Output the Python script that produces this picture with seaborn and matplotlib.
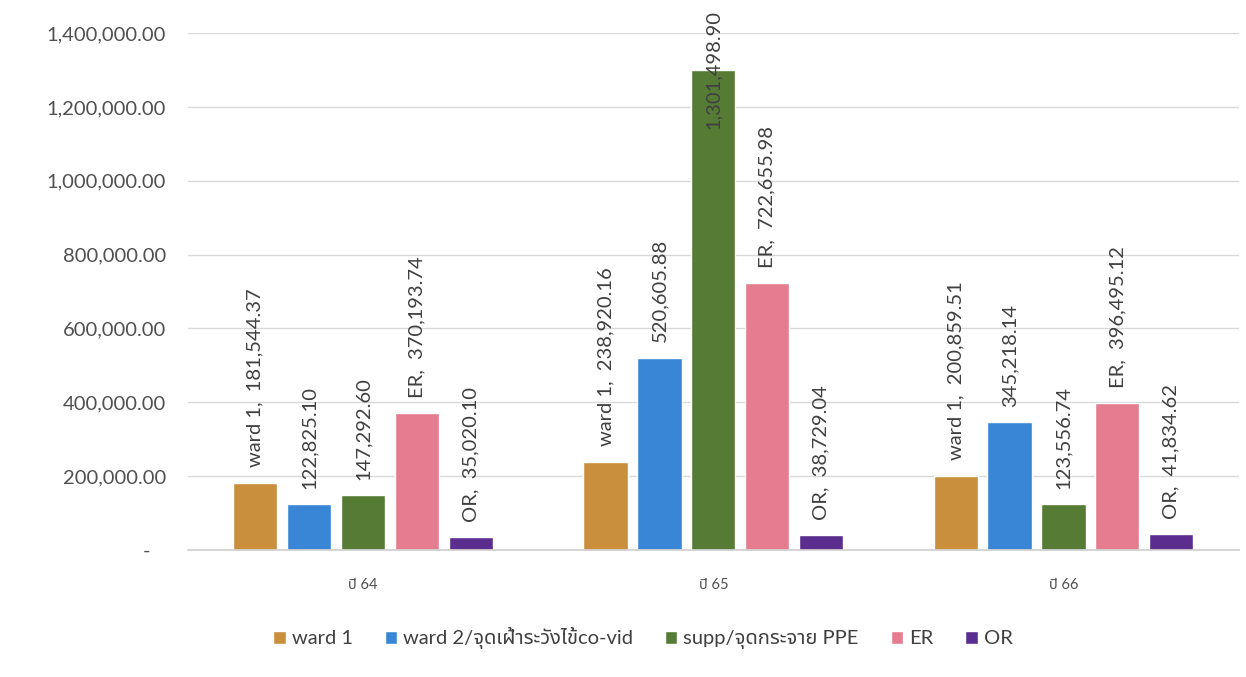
import matplotlib
matplotlib.use("Agg")
import matplotlib.pyplot as plt
import seaborn as sns
import pandas as pd
from matplotlib.ticker import FuncFormatter, MultipleLocator

# ---- data ----
years = ["ปี 64", "ปี 65", "ปี 66"]
series = ["ward 1", "ward 2/จุดเฝ้าระวังไข้co-vid", "supp/จุดกระจาย PPE", "ER", "OR"]
ward1 = [181544.37, 238920.16, 200859.51]
ward2 = [122825.10, 520605.88, 345218.14]
supp = [147292.60, 1301498.90, 123556.74]
er = [370193.74, 722655.98, 396495.12]
or_ = [35020.10, 38729.04, 41834.62]
# label prefix shown in the data labels (series name shown for some series)
label_prefix = ["ward 1,  ", "", "", "ER,  ", "OR,  "]
colors = ["#C98F3C", "#3A86D6", "#567B35", "#E67C8F", "#5B2D8E"]

values = [ward1, ward2, supp, er, or_]
rows = []
for s, vals in zip(series, values):
    for y, v in zip(years, vals):
        rows.append({"year": y, "series": s, "value": v})
df = pd.DataFrame(rows)

sns.set_theme(style="white")
plt.rcParams["font.family"] = ["Lato", "Noto Sans Thai", "DejaVu Sans"]

fig = plt.figure(figsize=(12.46, 6.77), dpi=100)
ax = fig.add_axes([0.151, 0.188, 0.843, 0.763])

sns.barplot(data=df, x="year", y="value", hue="series", order=years,
            hue_order=series, palette=colors, width=0.77, gap=0.18,
            saturation=1, ax=ax, legend=True)

ax.set_ylim(0, 1400000)
ax.set_xlim(-0.5, 2.5)
ax.yaxis.set_major_locator(MultipleLocator(200000))

def fmt(v, pos):
    if abs(v) < 1e-6:
        return "-   "
    return f"{v:,.2f}"
ax.yaxis.set_major_formatter(FuncFormatter(fmt))
ax.grid(axis="y", color="#D9D9D9", linewidth=1)
ax.set_axisbelow(True)
for sp in ["top", "right", "left"]:
    ax.spines[sp].set_visible(False)
ax.spines["bottom"].set_color("#D0D0D0")
ax.tick_params(axis="y", labelsize=14.5, labelcolor="#505050", length=0, pad=16)
ax.tick_params(axis="x", labelsize=10.5, labelcolor="#505050", length=0, pad=20)
ax.set_xlabel("")
ax.set_ylabel("")

# data labels
for ci, cont in enumerate(ax.containers):
    for bar, v in zip(cont, values[ci]):
        x = bar.get_x() + bar.get_width() / 2
        h = bar.get_height()
        txt = f"{label_prefix[ci]}{v:,.2f}"
        if v > 1200000:
            ax.text(x, h, txt, rotation=90, ha="center", va="center",
                    fontsize=14.5, color="#404040", clip_on=False)
        else:
            ax.annotate(txt, (x, h), xytext=(0, 11), textcoords="offset points",
                        rotation=90, ha="center", va="bottom",
                        fontsize=14.5, color="#404040")

leg = ax.legend(loc="upper center", bbox_to_anchor=(0.433, -0.115), ncol=5,
                frameon=False, fontsize=14.5, handlelength=0.6,
                handleheight=0.6, handletextpad=0.3, columnspacing=1.6)
for t in leg.get_texts():
    t.set_color("#404040")

fig.savefig("out.png", dpi=100, facecolor="white")
